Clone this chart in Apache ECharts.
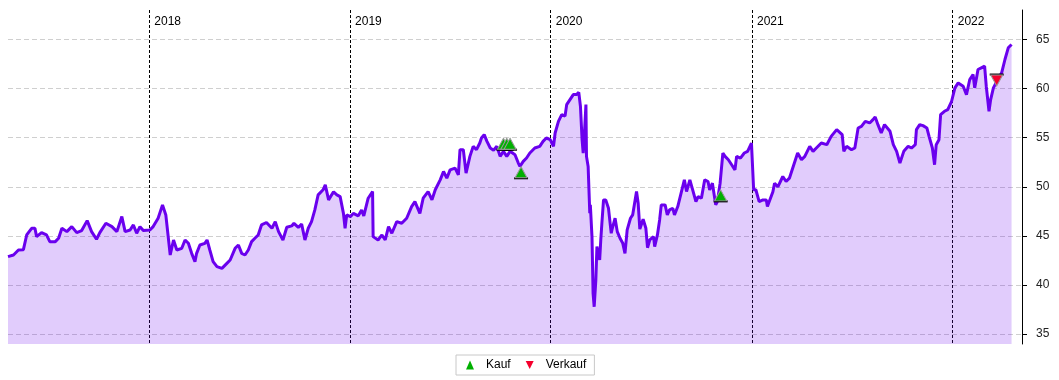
<!DOCTYPE html>
<html><head><meta charset="utf-8">
<script src="https://cdn.jsdelivr.net/npm/echarts@6/dist/echarts.min.js"></script>
<style>html,body{margin:0;padding:0;background:#fff}#c{width:1059px;height:380px}</style>
</head><body><div id="c"></div>
<script>
const dates = [
'2017-04-19','2017-04-29','2017-05-08','2017-05-17','2017-05-23','2017-06-01','2017-06-07','2017-06-10','2017-06-19','2017-06-28',
'2017-07-04','2017-07-14','2017-07-20','2017-07-26','2017-08-04','2017-08-13','2017-08-22','2017-08-31','2017-09-10','2017-09-18',
'2017-09-27','2017-10-03','2017-10-14','2017-10-25','2017-11-03','2017-11-12','2017-11-18','2017-11-27','2017-12-03','2017-12-09',
'2017-12-15','2017-12-21','2018-01-02','2018-01-08','2018-01-17','2018-01-25','2018-01-31','2018-02-05','2018-02-08','2018-02-14',
'2018-02-20','2018-03-01','2018-03-07','2018-03-13','2018-03-19','2018-03-25','2018-03-28','2018-04-03','2018-04-12','2018-04-16',
'2018-04-21','2018-04-27','2018-05-04','2018-05-13','2018-05-22','2018-05-28','2018-06-06','2018-06-12','2018-06-18','2018-06-24',
'2018-06-30','2018-07-06','2018-07-12','2018-07-18','2018-07-24','2018-08-02','2018-08-12','2018-08-18','2018-08-24','2018-09-01',
'2018-09-08','2018-09-17','2018-09-21','2018-09-29','2018-10-05','2018-10-11','2018-10-17','2018-10-23','2018-10-29','2018-11-04',
'2018-11-13','2018-11-17','2018-11-23','2018-12-02','2018-12-08','2018-12-14','2018-12-20','2018-12-23','2018-12-26','2019-01-02',
'2019-01-07','2019-01-16','2019-01-22','2019-01-26','2019-02-03','2019-02-11','2019-02-12','2019-02-21','2019-02-28','2019-03-06',
'2019-03-12','2019-03-18','2019-03-27','2019-04-05','2019-04-14','2019-04-23','2019-04-29','2019-05-08','2019-05-14','2019-05-23',
'2019-05-30','2019-06-05','2019-06-14','2019-06-20','2019-06-26','2019-07-02','2019-07-11','2019-07-17','2019-07-20','2019-07-26',
'2019-07-31','2019-08-07','2019-08-13','2019-08-19','2019-08-25','2019-08-28','2019-09-02','2019-09-07','2019-09-13','2019-09-19',
'2019-09-25','2019-10-01','2019-10-07','2019-10-13','2019-10-19','2019-10-28','2019-11-03','2019-11-06','2019-11-12','2019-11-18',
'2019-11-24','2019-12-03','2019-12-12','2019-12-18','2019-12-24','2019-12-31','2020-01-06','2020-01-09','2020-01-15','2020-01-21',
'2020-01-27','2020-01-30','2020-02-05','2020-02-11','2020-02-17','2020-02-21','2020-02-24','2020-02-27','2020-02-29','2020-03-02',
'2020-03-05','2020-03-06','2020-03-09','2020-03-12','2020-03-13','2020-03-16','2020-03-18','2020-03-20','2020-03-23','2020-03-25',
'2020-03-30','2020-04-01','2020-04-03','2020-04-06','2020-04-10','2020-04-15','2020-04-20','2020-04-22','2020-04-27','2020-05-01',
'2020-05-06','2020-05-11','2020-05-15','2020-05-19','2020-05-25','2020-05-29','2020-06-05','2020-06-08','2020-06-11','2020-06-17',
'2020-06-22','2020-06-25','2020-06-29','2020-07-06','2020-07-08','2020-07-13','2020-07-17','2020-07-20','2020-07-27','2020-07-31',
'2020-08-04','2020-08-10','2020-08-13','2020-08-19','2020-08-31','2020-09-04','2020-09-10','2020-09-16','2020-09-21','2020-09-25',
'2020-10-01','2020-10-07','2020-10-13','2020-10-16','2020-10-21','2020-10-27','2020-10-30','2020-11-04','2020-11-09','2020-11-13',
'2020-11-19','2020-11-25','2020-12-01','2020-12-04','2020-12-11','2020-12-18','2020-12-24','2020-12-31','2021-01-04','2021-01-08',
'2021-01-14','2021-01-21','2021-01-27','2021-01-29','2021-02-08','2021-02-11','2021-02-17','2021-02-26','2021-03-04','2021-03-10',
'2021-03-25','2021-04-01','2021-04-07','2021-04-16','2021-04-22','2021-04-28','2021-05-07','2021-05-17','2021-05-25','2021-06-04',
'2021-06-14','2021-06-17','2021-06-22','2021-07-01','2021-07-07','2021-07-13','2021-07-19','2021-07-26','2021-08-03','2021-08-09',
'2021-08-13','2021-08-18','2021-08-24','2021-08-30','2021-09-09','2021-09-15','2021-09-21','2021-09-27','2021-10-04','2021-10-12',
'2021-10-18','2021-10-25','2021-10-27','2021-11-02','2021-11-08','2021-11-15','2021-11-19','2021-11-25','2021-11-29','2021-12-02',
'2021-12-07','2021-12-10','2021-12-17','2021-12-23','2021-12-30','2022-01-05','2022-01-11','2022-01-14','2022-01-20','2022-01-26',
'2022-02-01','2022-02-07','2022-02-10','2022-02-16','2022-02-22','2022-02-28','2022-03-03','2022-03-08','2022-03-11','2022-03-16',
'2022-03-24','2022-03-31','2022-04-06','2022-04-12','2022-04-18'
];
const prices = [
42.89,43.06,43.57,43.6,45.1,45.78,45.78,44.93,45.34,45.1,
44.42,44.42,44.76,45.78,45.44,45.95,45.34,45.55,46.56,45.44,
44.66,45.34,46.29,45.95,45.44,46.97,45.44,45.6,46.12,45.27,
45.95,45.55,45.6,45.95,46.8,48.16,47.14,44.59,43.06,44.59,
43.57,43.74,44.59,44.25,43.23,42.38,43.23,44.08,44.25,44.59,
43.57,42.38,41.87,41.7,42.21,42.55,43.74,44.08,43.23,43.06,
43.57,44.42,44.76,45.1,46.12,46.37,45.78,46.46,45.44,44.59,
45.88,46.02,46.29,45.88,46.2,44.59,45.78,46.46,47.65,49.18,
49.7,50.2,48.67,49.5,49.18,49.0,47.3,45.78,47.14,46.97,
47.3,47.04,47.65,47.04,48.84,49.52,44.93,44.59,45.1,44.59,
45.95,45.27,46.46,46.29,46.8,47.99,48.5,47.3,48.84,49.52,
48.67,49.7,50.71,51.56,50.88,51.73,51.9,51.22,53.78,53.78,
51.4,53.1,54.12,53.78,54.46,54.97,55.31,54.63,53.95,53.73,
54.12,53.1,53.61,53.1,53.61,53.27,52.42,52.08,52.59,52.93,
53.44,53.95,54.12,54.63,54.97,54.8,54.12,55.48,56.67,57.35,
57.2,58.37,58.88,59.39,59.39,59.62,58.2,54.8,53.44,55.14,
58.37,53.1,52.08,47.31,48.16,44.93,39.15,37.79,40.51,43.91,
42.55,44.59,46.29,48.67,48.67,47.82,45.27,45.78,46.8,45.44,
44.76,44.25,43.23,45.61,46.8,47.14,49.52,48.33,45.7,46.7,
45.78,43.8,44.59,44.93,43.91,45.1,46.63,48.16,48.16,47.14,
47.65,47.82,47.14,47.99,50.71,49.52,50.71,49.52,48.5,49.01,
48.84,50.71,50.54,49.69,50.37,48.16,48.5,50.37,53.44,53.1,
52.76,52.25,51.73,53.1,52.93,53.44,53.61,54.46,49.7,49.7,
48.5,48.67,48.67,47.99,49.5,50.37,50.0,51.05,50.54,50.88,
53.44,52.76,53.1,54.12,53.61,53.95,54.46,54.29,55.14,55.82,
55.31,53.61,54.12,53.78,53.95,55.99,56.16,56.67,56.5,56.84,
57.11,56.33,55.48,56.33,55.65,54.29,53.61,52.42,53.61,54.12,
53.95,54.29,55.82,56.33,56.23,55.99,55.14,53.95,52.25,54.29,
54.8,57.35,57.69,57.86,58.71,60.07,60.58,60.75,60.24,59.39,
60.92,61.43,60.07,61.94,62.11,62.28,60.24,57.69,58.88,60.07,
60.92,61.6,62.96,64.15,64.49
];
const buyDates = ['2019-10-07','2019-10-13','2019-10-19','2019-11-08','2020-11-05'];
const buyPrices = [54.39,54.39,54.39,51.48,49.13];
const sellDates = ['2022-03-22'];
const sellPrices = [60.82];
const yTicks = [35,40,45,50,55,60,65];
const yMin = 34, yMax = 68;
const xMin = '2017-04-19', xMax = '2022-05-07';

const DAY = 86400000;
const FONT = 'Liberation Sans, Arial, sans-serif';
const pair = (ds, vs) => ds.map((d, i) => [d, vs[i]]);
const chart = echarts.init(document.getElementById('c'), null, {renderer: 'canvas'});
chart.setOption({
  animation: false,
  textStyle: {fontFamily: FONT},
  grid: {left: 8, right: 37, top: 10, bottom: 36},
  legend: {
    top: 355, left: 456,
    data: [{name: 'Kauf', icon: 'triangle'}, {name: 'Verkauf', icon: 'path://M0,0L10,0L5,10Z'}],
    borderColor: '#c8c8c8', borderWidth: 1, padding: [4, 8, 4, 10],
    itemWidth: 8, itemHeight: 9, itemGap: 15,
    itemStyle: {borderWidth: 0, opacity: 1},
    textStyle: {fontSize: 12, color: '#000', fontFamily: FONT, padding: [0, 0, 0, 7]}
  },
  xAxis: {
    type: 'time', position: 'top', min: xMin, max: xMax,
    minInterval: 366 * DAY, maxInterval: 500 * DAY,
    axisLine: {show: false}, axisTick: {show: false},
    axisLabel: {inside: true, align: 'left', margin: 6, padding: [0, 0, 0, 5], color: '#000', fontSize: 12, fontFamily: FONT, formatter: '{yyyy}', showMinLabel: false, showMaxLabel: false},
    splitLine: {show: true, showMinLine: false, showMaxLine: false, lineStyle: {color: '#000', type: [3, 2], width: 1}}
  },
  yAxis: {
    type: 'value', position: 'right', min: yMin, max: yMax,
    axisLine: {show: true, lineStyle: {color: '#000', width: 1}},
    axisTick: {show: true, length: 5, customValues: yTicks, lineStyle: {color: '#000'}},
    axisLabel: {customValues: yTicks, margin: 14, color: '#222', fontSize: 12, fontFamily: FONT},
    splitLine: {show: true, lineStyle: {color: '#cfcfcf', type: [5, 3], width: 1}}
  },
  series: [
    {
      name: 'Kurs', type: 'line', data: pair(dates, prices), showSymbol: false, symbol: 'none',
      lineStyle: {color: '#6a00ee', width: 3}, itemStyle: {color: '#6a00ee'},
      areaStyle: {color: 'rgba(106,0,238,0.2)', opacity: 1, origin: 'start'}, z: 2
    },
    {
      name: 'KaufBase', type: 'scatter', data: pair(buyDates, buyPrices), symbol: 'rect',
      symbolSize: [14, 2], symbolOffset: [0, 6], itemStyle: {color: '#000', opacity: 1}, z: 4, silent: true
    },
    {
      name: 'Kauf', type: 'scatter', data: pair(buyDates, buyPrices), symbol: 'triangle',
      symbolSize: [12, 11], itemStyle: {color: '#00b000', borderColor: '#9a9a9a', borderWidth: 1, opacity: 1}, z: 5
    },
    {
      name: 'VerkaufBase', type: 'scatter', data: pair(sellDates, sellPrices), symbol: 'rect',
      symbolSize: [14, 2], symbolOffset: [0, -6], itemStyle: {color: '#000', opacity: 1}, z: 4, silent: true
    },
    {
      name: 'Verkauf', type: 'scatter', data: pair(sellDates, sellPrices), symbol: 'path://M0,0L10,0L5,10Z',
      symbolSize: [12, 11], itemStyle: {color: '#f5002d', borderColor: '#9a9a9a', borderWidth: 1, opacity: 1}, z: 5
    }
  ]
});
</script>
</body></html>
